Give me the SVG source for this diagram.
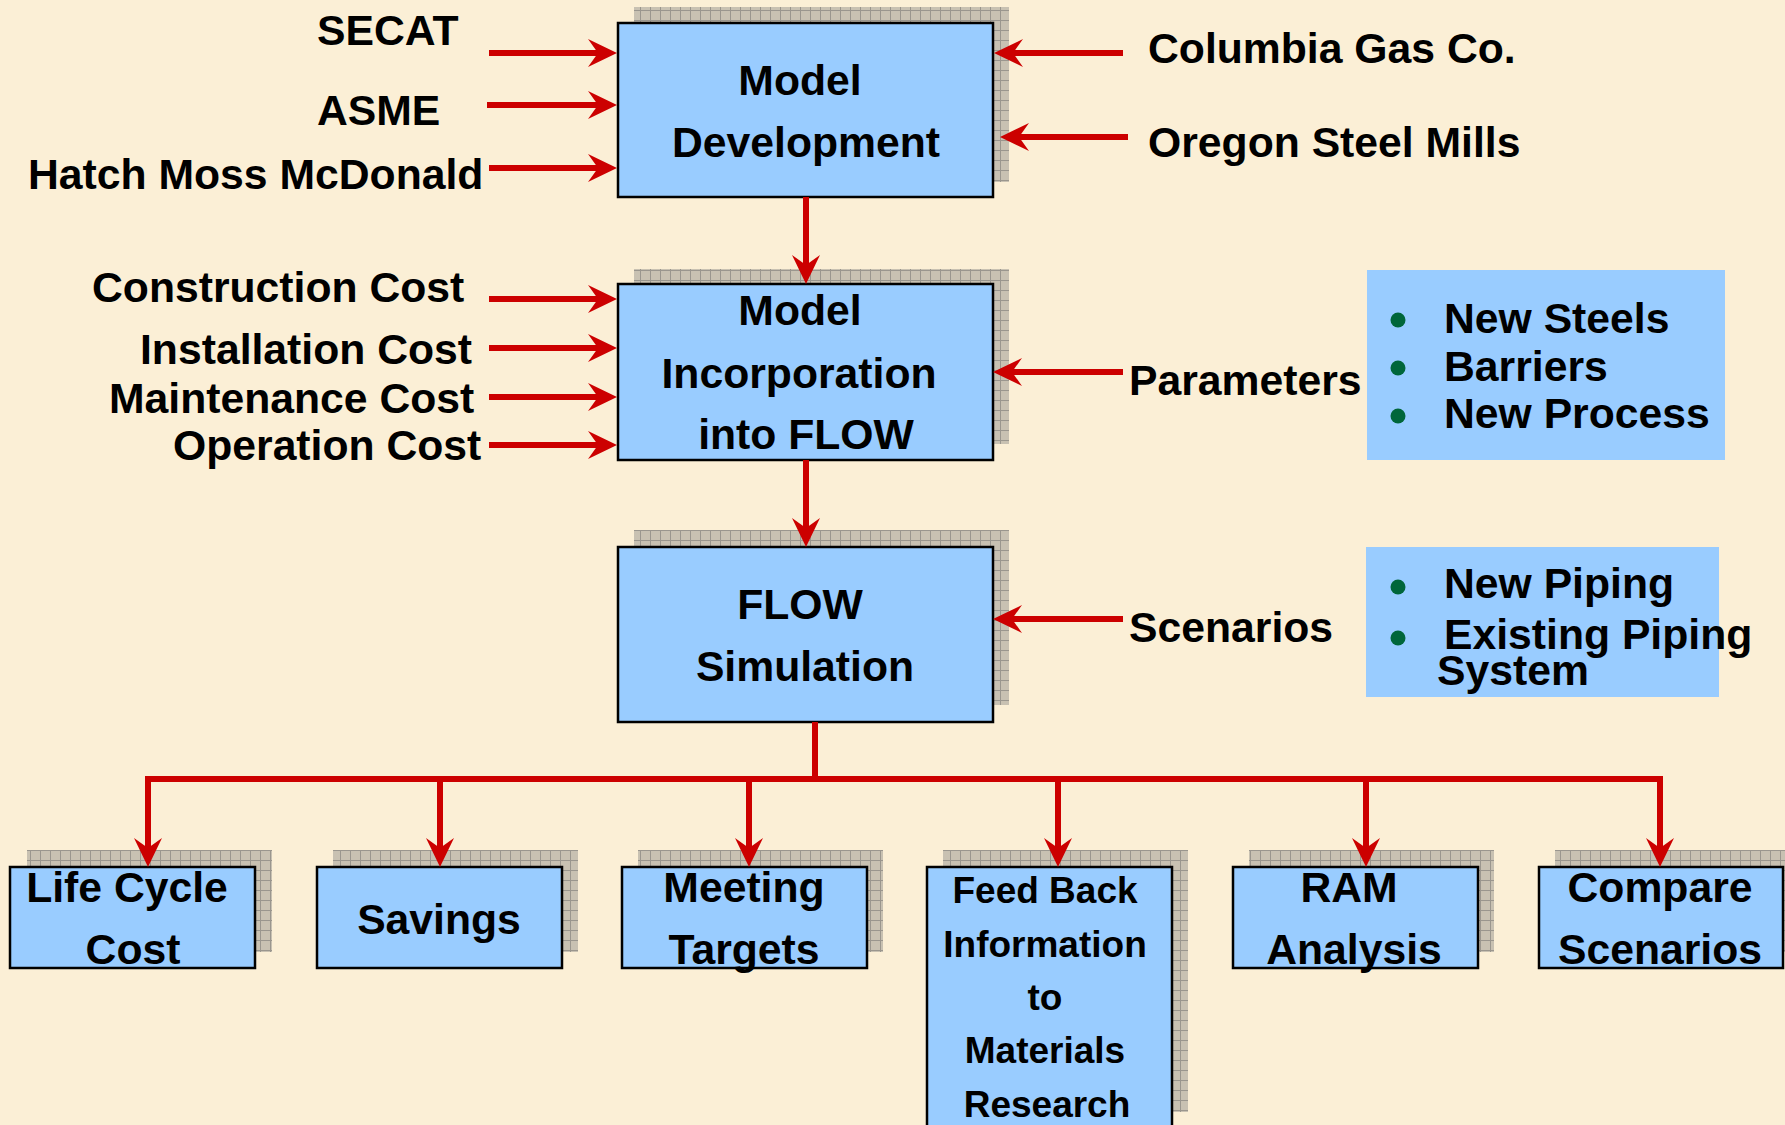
<svg xmlns="http://www.w3.org/2000/svg" width="1785" height="1125" viewBox="0 0 1785 1125">
<style>
.t{font-family:"Liberation Sans",Arial,sans-serif;font-weight:bold;font-size:42.7px;fill:#000}
.tc{text-anchor:middle}
.fb{font-size:37px}
.box{fill:#99CCFF;stroke:#000;stroke-width:2.5}
.shadow{fill:url(#grid)}
.panel{fill:#99CCFF}
.bul{fill:#00663A}
.con{fill:none;stroke:#CC0000;stroke-width:6}
.arr{marker-end:url(#ah)}
</style>
<defs>
<pattern id="grid" width="10" height="10" patternUnits="userSpaceOnUse">
<rect width="10" height="10" fill="#C8C1B2"/>
<path d="M0,0.5 H10 M0.5,0 V10" stroke="#9A968E" stroke-width="1"/>
</pattern>
<marker id="ah" viewBox="0 0 30 28" refX="10" refY="14" markerWidth="30" markerHeight="28" markerUnits="userSpaceOnUse" orient="auto">
<path d="M0,0 L29,14 L0,28 L10,14 Z" fill="#CC0000"/>
</marker>
</defs>
<rect width="1785" height="1125" fill="#FBEFD6"/>

<g id="node-model-development">
<rect class="shadow" x="634" y="7" width="375" height="175"/>
<rect class="box" x="618" y="23" width="375" height="174"/>
<text class="t tc" x="800" y="95">Model</text>
<text class="t tc" x="806" y="157">Development</text>
</g>

<g id="node-model-incorporation">
<rect class="shadow" x="634" y="269" width="375" height="175"/>
<rect class="box" x="618" y="284" width="375" height="176"/>
<text class="t tc" x="800" y="325">Model</text>
<text class="t tc" x="799" y="388">Incorporation</text>
<text class="t tc" x="806" y="449">into FLOW</text>
</g>

<g id="node-flow-simulation">
<rect class="shadow" x="634" y="530" width="375" height="175"/>
<rect class="box" x="618" y="547" width="375" height="175"/>
<text class="t tc" x="800" y="619">FLOW</text>
<text class="t tc" x="805" y="681">Simulation</text>
</g>

<g id="label-secat"><text class="t" x="317" y="45">SECAT</text></g>
<g id="label-asme"><text class="t" x="317" y="125">ASME</text></g>
<g id="label-hatch"><text class="t" x="28" y="189">Hatch Moss McDonald</text></g>
<g id="label-construction"><text class="t" x="92" y="302">Construction Cost</text></g>
<g id="label-installation"><text class="t" x="140" y="364">Installation Cost</text></g>
<g id="label-maintenance"><text class="t" x="109" y="413">Maintenance Cost</text></g>
<g id="label-operation"><text class="t" x="173" y="460">Operation Cost</text></g>

<g id="label-columbia"><text class="t" x="1148" y="63">Columbia Gas Co.</text></g>
<g id="label-oregon"><text class="t" x="1148" y="157">Oregon Steel Mills</text></g>
<g id="label-parameters"><text class="t" x="1129" y="395">Parameters</text></g>
<g id="label-scenarios"><text class="t" x="1129" y="642">Scenarios</text></g>

<g id="node-parameters-list">
<rect class="panel" x="1367" y="270" width="358" height="190"/>
<circle class="bul" cx="1398" cy="320" r="7.5"/>
<circle class="bul" cx="1398" cy="368" r="7.5"/>
<circle class="bul" cx="1398" cy="416" r="7.5"/>
<text class="t" x="1444" y="333">New Steels</text>
<text class="t" x="1444" y="381">Barriers</text>
<text class="t" x="1444" y="428">New Process</text>
</g>

<g id="node-scenarios-list">
<rect class="panel" x="1366" y="547" width="353" height="150"/>
<circle class="bul" cx="1398" cy="587" r="7.5"/>
<circle class="bul" cx="1398" cy="638" r="7.5"/>
<text class="t" x="1444" y="598">New Piping</text>
<text class="t" x="1444" y="649">Existing Piping</text>
<text class="t" x="1437" y="685">System</text>
</g>

<g id="node-life-cycle-cost">
<rect class="shadow" x="27" y="850" width="245" height="102"/>
<rect class="box" x="10" y="867" width="245" height="101"/>
<text class="t tc" x="127" y="902">Life Cycle</text>
<text class="t tc" x="133" y="964">Cost</text>
</g>

<g id="node-savings">
<rect class="shadow" x="333" y="850" width="245" height="102"/>
<rect class="box" x="317" y="867" width="245" height="101"/>
<text class="t tc" x="439" y="934">Savings</text>
</g>

<g id="node-meeting-targets">
<rect class="shadow" x="638" y="850" width="245" height="102"/>
<rect class="box" x="622" y="867" width="245" height="101"/>
<text class="t tc" x="744" y="902">Meeting</text>
<text class="t tc" x="744" y="964">Targets</text>
</g>

<g id="node-feed-back">
<rect class="shadow" x="943" y="850" width="245" height="262"/>
<rect class="box" x="927" y="867" width="245" height="270"/>
<text class="t tc fb" x="1045" y="903">Feed Back</text>
<text class="t tc fb" x="1045" y="957">Information</text>
<text class="t tc fb" x="1045" y="1010">to</text>
<text class="t tc fb" x="1045" y="1063">Materials</text>
<text class="t tc fb" x="1047" y="1117">Research</text>
</g>

<g id="node-ram-analysis">
<rect class="shadow" x="1249" y="850" width="245" height="102"/>
<rect class="box" x="1233" y="867" width="245" height="101"/>
<text class="t tc" x="1349" y="902">RAM</text>
<text class="t tc" x="1354" y="964">Analysis</text>
</g>

<g id="node-compare-scenarios">
<rect class="shadow" x="1555" y="850" width="245" height="102"/>
<rect class="box" x="1539" y="867" width="244" height="101"/>
<text class="t tc" x="1660" y="902">Compare</text>
<text class="t tc" x="1660" y="964">Scenarios</text>
</g>

<g id="connectors">
<path class="con arr" d="M489,53 H598"/>
<path class="con arr" d="M487,105 H598"/>
<path class="con arr" d="M489,168 H598"/>
<path class="con arr" d="M489,299 H598"/>
<path class="con arr" d="M489,348 H598"/>
<path class="con arr" d="M489,397 H598"/>
<path class="con arr" d="M489,445 H598"/>
<path class="con arr" d="M1123,53 H1013"/>
<path class="con arr" d="M1128,137 H1019"/>
<path class="con arr" d="M1123,372 H1012"/>
<path class="con arr" d="M1123,619 H1012"/>
<path class="con arr" d="M806,197 V265"/>
<path class="con arr" d="M806,460 V528"/>
<path class="con" d="M815,722 V779 M148,779 H1660"/>
<path class="con arr" d="M148,776 V848"/>
<path class="con arr" d="M440,776 V848"/>
<path class="con arr" d="M749,776 V848"/>
<path class="con arr" d="M1058,776 V848"/>
<path class="con arr" d="M1366,776 V848"/>
<path class="con arr" d="M1660,776 V848"/>
</g>
</svg>
